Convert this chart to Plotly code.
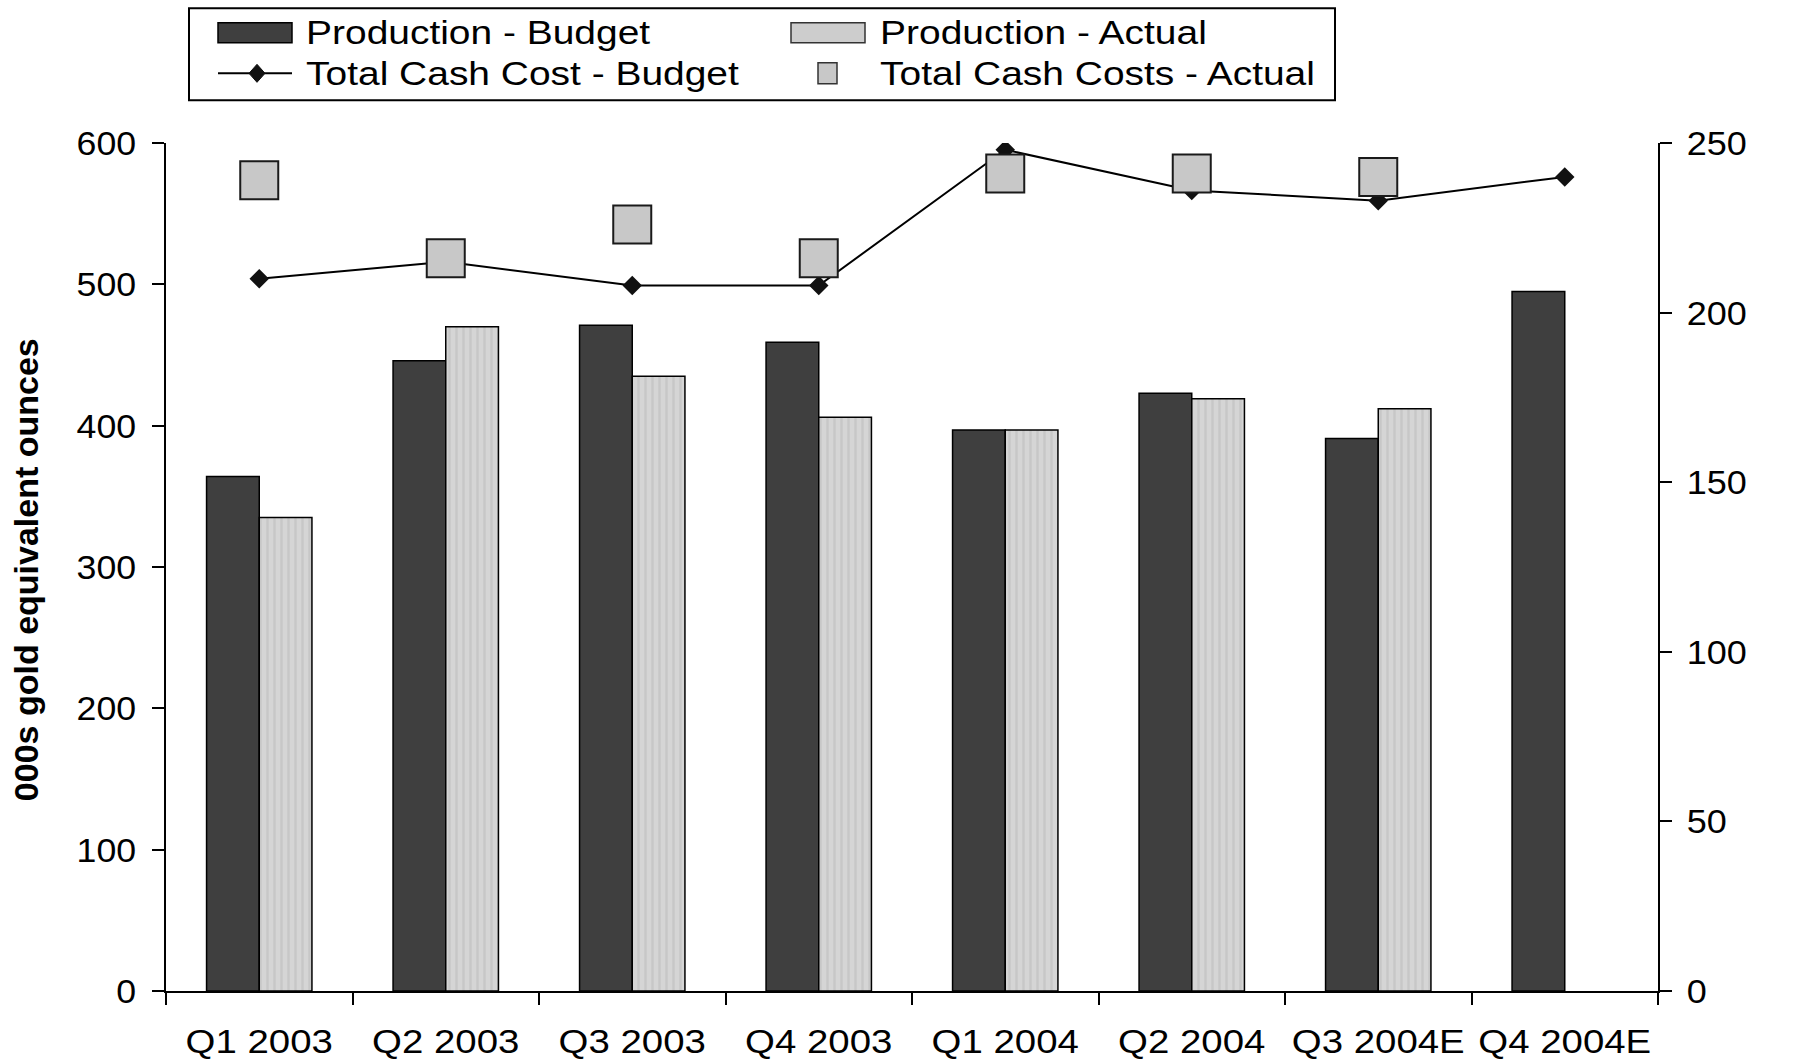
import plotly.graph_objects as go

# Quarterly production (000s oz) and total cash costs, budget vs actual
categories = ["Q1 2003", "Q2 2003", "Q3 2003", "Q4 2003",
              "Q1 2004", "Q2 2004", "Q3 2004E", "Q4 2004E"]
prod_budget = [364, 446, 471, 459, 397, 423, 391, 495]
prod_actual = [335, 470, 435, 406, 397, 419, 412, None]
cost_budget = [210, 215, 208, 208, 248, 236, 233, 240]
cost_actual = [239, 216, 226, 216, 241, 241, 240, None]

legend_labels = ["Production - Budget", "Production - Actual",
                 "Total Cash Cost - Budget", "Total Cash Costs - Actual"]

W, H = 1796, 1059
L, R, T, B = 166, 1658, 142.7, 991
FONT = "Liberation Sans, Arial, sans-serif"
DARK = "#3f3f3f"
LIGHT = "#cdcdcd"
STREAK = "#b9b9b9"
SQUARE = "#c8c8c8"


def px(x):
    return (x - L) / (R - L)


def py(y):
    return (B - y) / (B - T)


fig = go.Figure()
fig.add_trace(go.Bar(x=categories, y=prod_budget, name=legend_labels[0],
                     marker=dict(color=DARK, line=dict(color="black", width=1.5))))
fig.add_trace(go.Bar(x=categories, y=prod_actual, name=legend_labels[1],
                     marker=dict(color=LIGHT, line=dict(color="black", width=1.5),
                                 pattern=dict(shape="|", fgcolor=STREAK, bgcolor="#d5d5d5",
                                              size=7, solidity=0.35))))
fig.add_trace(go.Scatter(x=categories, y=cost_budget, name=legend_labels[2],
                         yaxis="y2", mode="lines+markers",
                         line=dict(color="black", width=2),
                         marker=dict(symbol="diamond", size=15, color="#111111")))
fig.add_trace(go.Scatter(x=categories, y=cost_actual, name=legend_labels[3],
                         yaxis="y2", mode="markers",
                         marker=dict(symbol="square", size=38, color=SQUARE,
                                     line=dict(color="#1a1a1a", width=2))))

# legend box drawn by hand: frame, keys and labels
shapes = [dict(type="rect", xref="paper", yref="paper",
               x0=px(189), x1=px(1335), y0=py(100), y1=py(8),
               line=dict(color="black", width=2), fillcolor="white", layer="above")]
row_y = [32.5, 73]
col_text = [304, 878]

shapes.append(dict(type="rect", xref="paper", yref="paper",
                   x0=px(218), x1=px(292), y0=py(row_y[0] + 10), y1=py(row_y[0] - 10),
                   fillcolor=DARK, line=dict(color="black", width=1.5), layer="above"))
shapes.append(dict(type="rect", xref="paper", yref="paper",
                   x0=px(791), x1=px(865), y0=py(row_y[0] + 10), y1=py(row_y[0] - 10),
                   fillcolor=LIGHT, line=dict(color="#333333", width=1.5), layer="above"))
shapes.append(dict(type="line", xref="paper", yref="paper",
                   x0=px(218), x1=px(292), y0=py(row_y[1]), y1=py(row_y[1]),
                   line=dict(color="black", width=2), layer="above"))
cx, cy, dx, dy = 257, row_y[1], 8, 9
shapes.append(dict(type="path", xref="paper", yref="paper",
                   path=(f"M{px(cx - dx)},{py(cy)} L{px(cx)},{py(cy - dy)} "
                         f"L{px(cx + dx)},{py(cy)} L{px(cx)},{py(cy + dy)} Z"),
                   fillcolor="#111111", line=dict(color="#111111", width=1), layer="above"))
shapes.append(dict(type="rect", xref="paper", yref="paper",
                   x0=px(818), x1=px(837), y0=py(row_y[1] + 10.5), y1=py(row_y[1] - 10.5),
                   fillcolor=SQUARE, line=dict(color="#333333", width=1.5), layer="above"))

annotations = []
for i, label in enumerate(legend_labels):
    r, c = divmod(i, 2)
    annotations.append(dict(text=label, xref="paper", yref="paper",
                            x=px(col_text[c]), y=py(row_y[r]), xanchor="left",
                            yanchor="middle", showarrow=False,
                            font=dict(family=FONT, size=33, color="black")))
annotations.append(dict(text="<b>000s gold equivalent ounces</b>", xref="paper",
                        yref="paper", x=px(26), y=py(570), textangle=-90,
                        xanchor="center", yanchor="middle", showarrow=False,
                        font=dict(family=FONT, size=34, color="black")))

fig.update_layout(
    width=W, height=H,
    margin=dict(l=L, r=W - R, t=T, b=H - B, autoexpand=False),
    paper_bgcolor="white", plot_bgcolor="white",
    barmode="group", bargap=0.435, bargroupgap=0,
    showlegend=False,
    shapes=shapes, annotations=annotations,
    font=dict(family=FONT, color="black"),
    xaxis=dict(type="category", range=[-0.5, 7.5], tickson="boundaries",
               ticks="outside", ticklen=12,
               tickwidth=2, tickcolor="black", showline=True, linecolor="black",
               linewidth=2, showgrid=False, zeroline=False,
               tickfont=dict(family=FONT, size=34), ticklabelstandoff=19),
    yaxis=dict(range=[0, 600], tickvals=[0, 100, 200, 300, 400, 500, 600],
               ticks="outside", ticklen=12, tickwidth=2, tickcolor="black",
               showline=True, linecolor="black", linewidth=2, showgrid=False,
               zeroline=False, tickfont=dict(family=FONT, size=34),
               ticklabelstandoff=9),
    yaxis2=dict(range=[0, 250], tickvals=[0, 50, 100, 150, 200, 250],
                overlaying="y", side="right", ticks="outside", ticklen=12,
                tickwidth=2, tickcolor="black", showline=True, linecolor="black",
                linewidth=2, showgrid=False, zeroline=False,
                tickfont=dict(family=FONT, size=34), ticklabelstandoff=8),
)

# the lettering of this chart is set wide: widen the glyphs horizontally,
# keeping each label pinned at its anchor edge
widen_text = """
var gd = document.getElementById('{plot_id}');
function widen(sel, s, anchor) {
  gd.querySelectorAll(sel).forEach(function (t) {
    var b = t.getBBox();
    var ax = anchor === 'left' ? b.x : (anchor === 'right' ? b.x + b.width : b.x + b.width / 2);
    var tr = t.getAttribute('transform') || '';
    t.setAttribute('transform', tr + ' translate(' + ax + ',0) scale(' + s + ',1) translate(' + (-ax) + ',0)');
  });
}
widen('g.xtick text', 1.13, 'middle');
widen('g.ytick text', 1.05, 'right');
widen('g.y2tick text', 1.06, 'left');
for (var i = 0; i < 4; i++) {
  widen('g.annotation[data-index="' + i + '"] text.annotation-text', 1.18, 'left');
}
"""

fig.write_html("out.html", post_script=widen_text)
